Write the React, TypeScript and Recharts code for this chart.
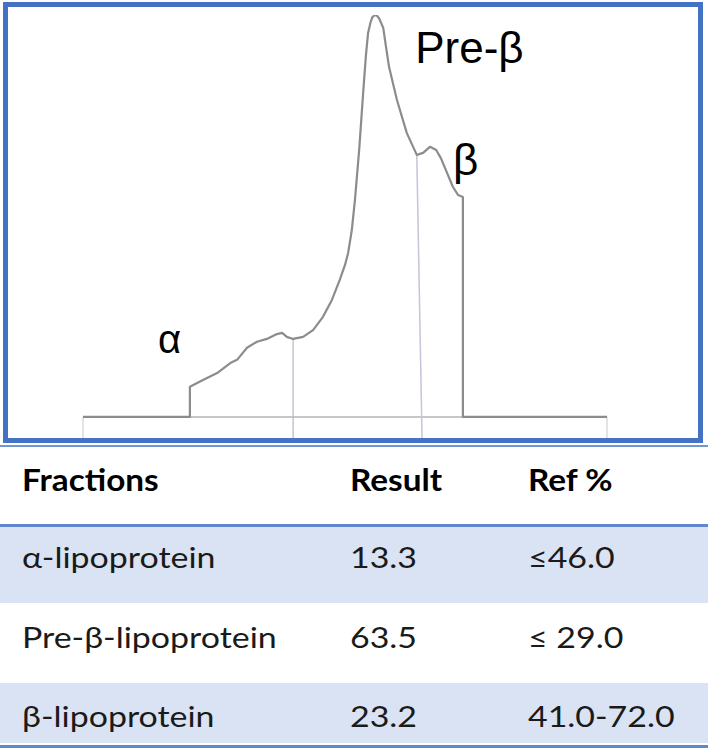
import React from "react";
import { LineChart, Line, XAxis, YAxis, ReferenceLine, ReferenceDot } from "recharts";

// densitometry scan: position along the strip (0-100) vs optical density (peak = 100)
const positions = [
  0, 20.4, 20.4, 22.9, 25.6, 28.1, 29.4, 31.3, 33.2, 35.1, 37.0, 38.0, 38.9, 40.1,
  42.0, 43.9, 45.8, 47.5, 49.0, 50.0, 50.6, 51.3, 51.9, 52.7, 53.6, 54.0, 54.4,
  54.9, 55.2, 55.7, 56.1, 56.5, 57.3, 57.8, 58.4, 59.9, 61.8, 63.7, 64.9, 66.2,
  67.4, 68.3, 70.6, 71.6, 72.5, 72.5, 100,
];
const densities = [
  0, 0, 7.5, 9.2, 10.9, 13.4, 14.2, 17.2, 18.7, 19.4, 20.6, 20.9, 19.9, 19.4,
  19.9, 21.6, 24.9, 29.1, 34.1, 37.8, 40.8, 46.5, 54.0, 66.4, 83.1, 90.0, 95.5,
  98.3, 99.4, 100, 99.8, 99.2, 96.8, 92.3, 87.1, 78.9, 70.6, 65.2, 65.7, 67.2,
  66.4, 64.4, 57.2, 55.2, 54.7, 0, 0,
];

// fraction cut points drawn by the densitometer
const cutAlpha = { x: 40.1, top: 19.4 };
const cutBeta = { xTop: 63.7, xBottom: 64.7, top: 65.2 };

const peakLabels = ["α", "Pre-β", "β"];
const peakLabelX = [14.3, 63.4, 70.6];
const peakLabelY = [15.9, 88.1, 60.2];

const fractions = ["α-lipoprotein", "Pre-β-lipoprotein", "β-lipoprotein"];
const results = ["13.3", "63.5", "23.2"];
const refRanges = ["≤46.0", "≤ 29.0", "41.0-72.0"];
const headers = ["Fractions", "Result", "Ref %"];

const BLUE = "#4472c4";
const SHADE = "#dae3f3";
const Y_MIN = -5.25;

const data = positions.map((x, i) => ({ x, y: densities[i] }));
const labels = peakLabels.map((t, i) => ({ t, x: peakLabelX[i], y: peakLabelY[i] }));

const colX = [22, 350, 528];

function Cell({ x, y, text, bold }: { x: number; y: number; text: string; bold?: boolean }) {
  return (
    <text
      transform={`translate(${x},${y}) scale(${bold ? 1.13 : 1.17},1)`}
      fontFamily="Lato, 'Open Sans', sans-serif"
      fontSize={bold ? 29.5 : 29}
      fontWeight={bold ? 700 : 400}
      fill={bold ? "#000" : "#1a1a1a"}
    >
      {text}
    </text>
  );
}

function ResultsTable() {
  const rowTop = [82, 158, 238];
  const rowH = [76, 80, 60];
  const baselines = [123, 203, 282];
  return (
    <svg width={708} height={305} style={{ position: "absolute", left: 0, top: 445 }}>
      <rect x={0} y={0} width={708} height={2} fill={BLUE} opacity={0.75} />
      {headers.map((h, i) => (
        <Cell key={h} x={colX[i]} y={46} text={h} bold />
      ))}
      <rect x={0} y={79} width={708} height={3} fill={BLUE} opacity={0.85} />
      {fractions.map((f, i) => (
        <g key={f}>
          {i !== 1 && <rect x={0} y={rowTop[i]} width={708} height={rowH[i]} fill={SHADE} />}
          <Cell x={colX[0]} y={baselines[i]} text={f} />
          <Cell x={colX[1]} y={baselines[i]} text={results[i]} />
          <Cell x={colX[2]} y={baselines[i]} text={refRanges[i]} />
        </g>
      ))}
      <rect x={0} y={300} width={708} height={3} fill={BLUE} opacity={0.85} />
    </svg>
  );
}

export default function App() {
  return (
    <div
      style={{
        position: "absolute",
        left: 0,
        top: 0,
        width: 708,
        height: 750,
        background: "#fff",
        overflow: "hidden",
      }}
    >
      <LineChart
        width={708}
        height={445}
        data={data}
        margin={{ top: 15, right: 101, bottom: 7, left: 83 }}
      >
        <XAxis type="number" dataKey="x" domain={[0, 100]} hide allowDataOverflow />
        <YAxis type="number" domain={[Y_MIN, 100]} hide allowDataOverflow />
        {/* baseline and end ticks */}
        <ReferenceLine
          segment={[{ x: 0, y: 0 }, { x: 100, y: 0 }]}
          stroke="#b5b5b5"
          strokeWidth={1.5}
          ifOverflow="visible"
        />
        <ReferenceLine
          segment={[{ x: 0, y: 0 }, { x: 0, y: Y_MIN }]}
          stroke="#c8c8c8"
          strokeWidth={1}
          ifOverflow="visible"
        />
        <ReferenceLine
          segment={[{ x: 100, y: 0 }, { x: 100, y: Y_MIN }]}
          stroke="#c8c8c8"
          strokeWidth={1}
          ifOverflow="visible"
        />
        <ReferenceLine
          segment={[{ x: cutAlpha.x, y: cutAlpha.top }, { x: cutAlpha.x, y: Y_MIN }]}
          stroke="#b4b4c8"
          strokeWidth={1.2}
          ifOverflow="visible"
        />
        <ReferenceLine
          segment={[{ x: cutBeta.xTop, y: cutBeta.top }, { x: cutBeta.xBottom, y: Y_MIN }]}
          stroke="#c4c4da"
          strokeWidth={1.5}
          ifOverflow="visible"
        />
        <Line
          type="linear"
          dataKey="y"
          stroke="#8c8c8c"
          strokeWidth={2.2}
          strokeLinejoin="round"
          dot={false}
          isAnimationActive={false}
        />
        {labels.map((l) => (
          <ReferenceDot
            key={l.t}
            x={l.x}
            y={l.y}
            r={0}
            ifOverflow="visible"
            shape={(p: any) => (
              <text
                x={p.cx}
                y={p.cy}
                fontFamily="'Liberation Sans', Arial, sans-serif"
                fontSize={l.t === "α" ? 40 : 44}
                fill="#000"
              >
                {l.t}
              </text>
            )}
          />
        ))}
      </LineChart>
      <div
        style={{
          position: "absolute",
          left: 3,
          top: 2,
          width: 700,
          height: 441,
          boxSizing: "border-box",
          border: `5px solid ${BLUE}`,
          pointerEvents: "none",
        }}
      />
      <ResultsTable />
    </div>
  );
}
